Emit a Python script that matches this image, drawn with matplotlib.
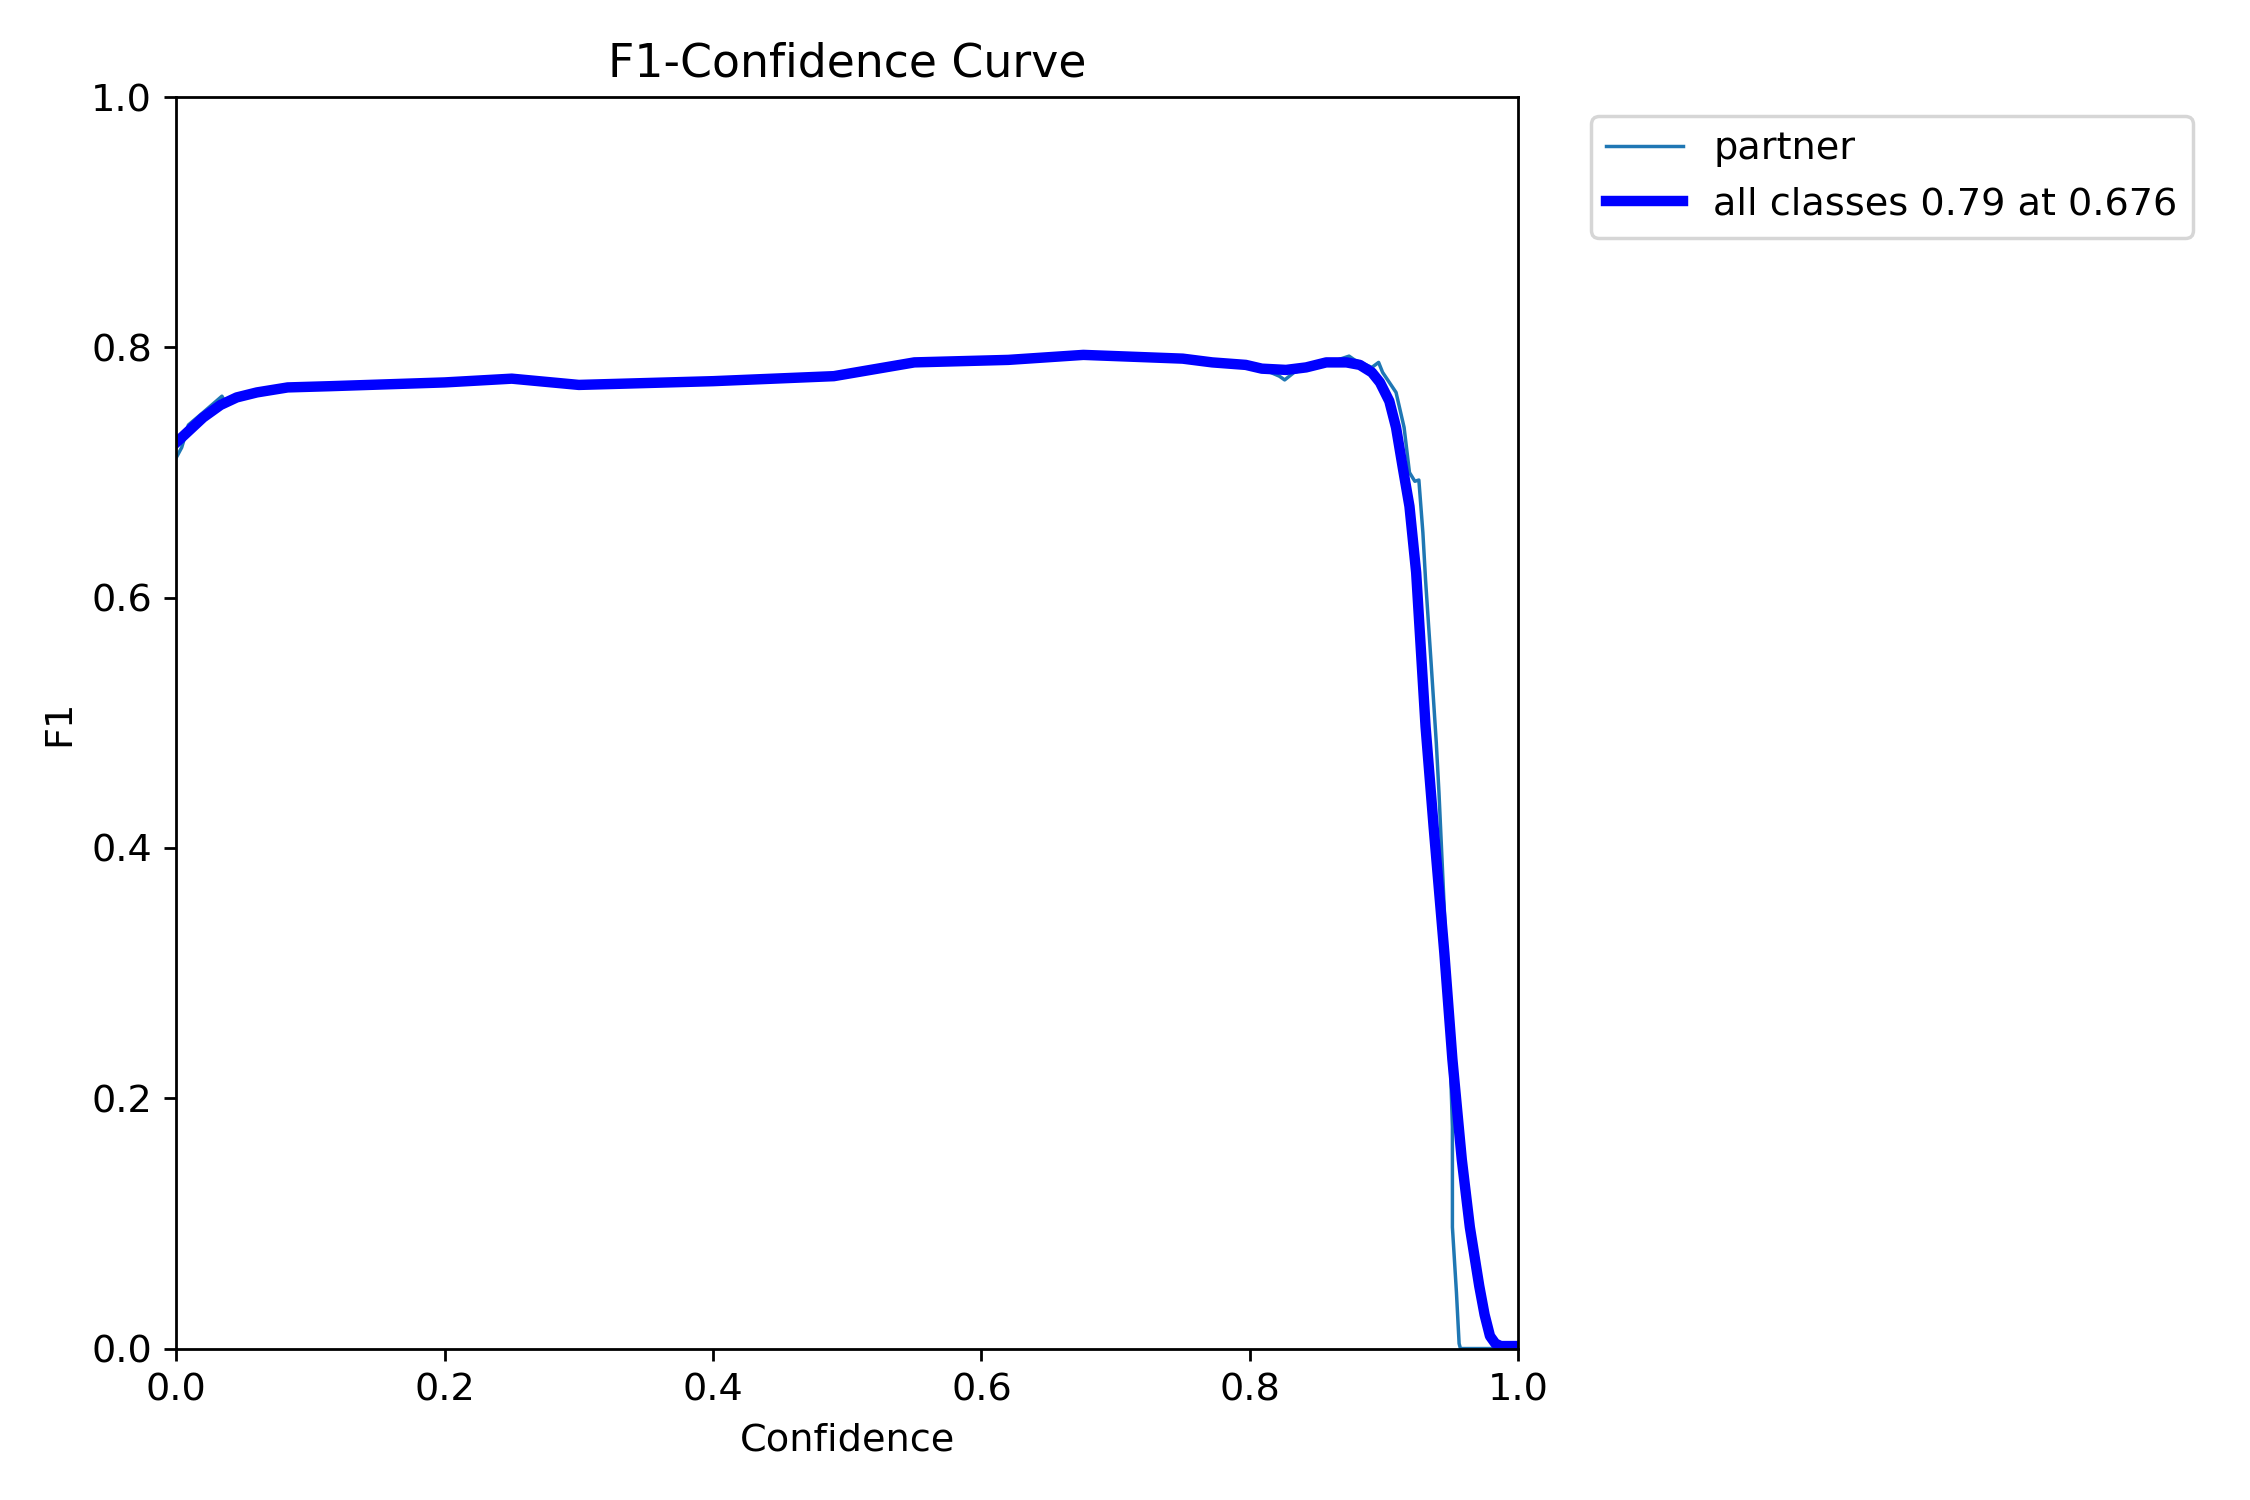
import matplotlib
matplotlib.use('Agg')
import matplotlib.pyplot as plt

plt.rcParams['font.size'] = 11

# confidence / F1 points
conf_all = [0.0, 0.010, 0.020, 0.033, 0.045, 0.060, 0.083, 0.115, 0.20, 0.25, 0.30,
            0.40, 0.49, 0.55, 0.62, 0.676, 0.75, 0.772, 0.797, 0.809, 0.827, 0.842,
            0.857, 0.872, 0.882, 0.891, 0.897, 0.904, 0.909, 0.914, 0.919, 0.924,
            0.931, 0.937, 0.945, 0.951, 0.958, 0.964, 0.971, 0.975, 0.979, 0.983,
            0.987, 1.0]
f1_all = [0.724, 0.734, 0.744, 0.754, 0.760, 0.764, 0.768, 0.769, 0.772, 0.775, 0.770,
          0.773, 0.777, 0.788, 0.790, 0.794, 0.791, 0.788, 0.786, 0.783, 0.782, 0.784,
          0.788, 0.788, 0.786, 0.780, 0.772, 0.757, 0.736, 0.704, 0.673, 0.620,
          0.497, 0.417, 0.316, 0.231, 0.151, 0.097, 0.050, 0.027, 0.010, 0.004,
          0.002, 0.002]

conf_partner = [0.0, 0.004, 0.009, 0.020, 0.034, 0.036, 0.045, 0.060, 0.083, 0.115, 0.20,
                0.25, 0.30, 0.40, 0.49, 0.55, 0.62, 0.676, 0.75, 0.772, 0.797, 0.809,
                0.822, 0.826, 0.833, 0.857, 0.874, 0.878, 0.891, 0.896, 0.899, 0.909,
                0.915, 0.919, 0.923, 0.926, 0.929, 0.931, 0.935, 0.939, 0.941, 0.945,
                0.949, 0.951, 0.951, 0.954, 0.956, 0.957, 1.0]
f1_partner = [0.712, 0.720, 0.738, 0.748, 0.761, 0.757, 0.760, 0.764, 0.768, 0.769, 0.772,
              0.775, 0.770, 0.773, 0.777, 0.788, 0.790, 0.794, 0.791, 0.788, 0.786, 0.783,
              0.777, 0.774, 0.780, 0.787, 0.793, 0.790, 0.784, 0.788, 0.780, 0.764,
              0.736, 0.700, 0.693, 0.694, 0.652, 0.614, 0.550, 0.484, 0.444, 0.350,
              0.244, 0.177, 0.097, 0.045, 0.004, 0.0, 0.0]

names = ['partner']
all_label = 'all classes 0.79 at 0.676'

fig, ax = plt.subplots(1, 1, figsize=(9, 6), tight_layout=True)
ax.plot(conf_partner, f1_partner, linewidth=1, label=names[0])
ax.plot(conf_all, f1_all, linewidth=3, color='blue', label=all_label)
ax.set_xlabel('Confidence')
ax.set_ylabel('F1')
ax.set_xlim(0, 1)
ax.set_ylim(0, 1)
ax.legend(bbox_to_anchor=(1.04, 1), loc='upper left')
ax.set_title('F1-Confidence Curve')
fig.savefig('out.png', dpi=250)
